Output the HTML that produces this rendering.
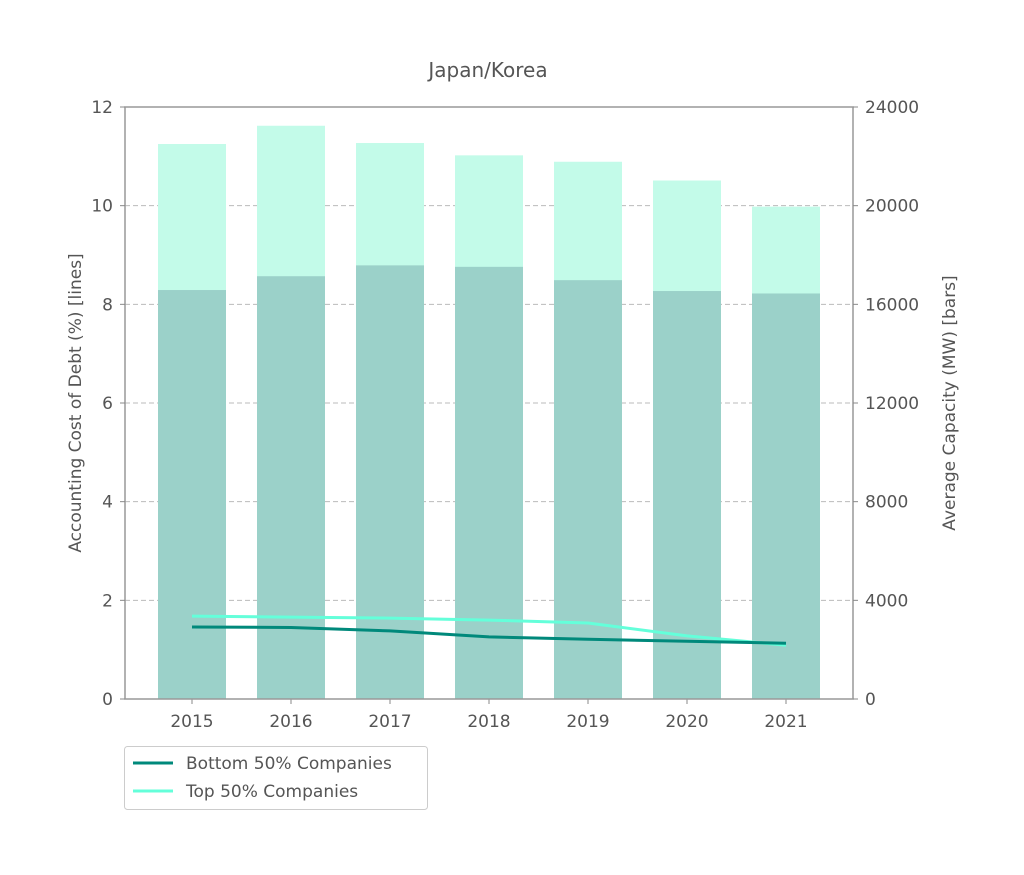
<!DOCTYPE html>
<html><head><meta charset="utf-8"><style>
body{margin:0;background:#fff}
svg text{font-family:"DejaVu Sans","Liberation Sans",sans-serif;fill:#555}
</style></head><body>
<svg id="chart" width="1024" height="870" xmlns="http://www.w3.org/2000/svg">
<text x="488" y="77" font-size="20" text-anchor="middle">Japan/Korea</text>
<g id="grid"></g><g id="bars"></g><g id="lines"></g><g id="axes"></g>
<text transform="translate(81,403) rotate(-90)" font-size="17" text-anchor="middle">Accounting Cost of Debt (%)  [lines]</text>
<text transform="translate(955,403) rotate(-90)" font-size="17" text-anchor="middle">Average Capacity (MW) [bars]</text>
<g>
<rect x="124.5" y="746.5" width="303" height="63" rx="3" fill="#fff" stroke="#ccc"/>
<line x1="133" y1="763" x2="173" y2="763" stroke="#00897b" stroke-width="3"/>
<text x="186" y="769" font-size="17">Bottom 50% Companies</text>
<line x1="133" y1="791" x2="173" y2="791" stroke="#64ffda" stroke-width="3"/>
<text x="186" y="797" font-size="17">Top 50% Companies</text>
</g>
</svg>
<script>
const years=["2015","2016","2017","2018","2019","2020","2021"];
const capTop=[22500,23240,22540,22040,21780,21020,19960];
const capBottom=[16580,17140,17580,17520,16980,16540,16440];
const debtBottom=[1.46,1.45,1.38,1.26,1.21,1.17,1.13];
const debtTop=[1.68,1.66,1.64,1.60,1.54,1.28,1.09];
const leftTicks=[0,2,4,6,8,10,12];
const rightTicks=[0,4000,8000,12000,16000,20000,24000];
const NS="http://www.w3.org/2000/svg";
const X0=125,X1=853,Y0=699,Y1=107;
const xs=i=>192+i*99;
const yl=v=>Y0-(v/12)*(Y0-Y1);
const yr=v=>Y0-(v/24000)*(Y0-Y1);
function mk(p,tag,at){const e=document.createElementNS(NS,tag);for(const k in at)e.setAttribute(k,at[k]);document.getElementById(p).appendChild(e);return e;}
leftTicks.forEach(v=>{if(v>0&&v<12){const g=mk('grid','line',{x1:X0,x2:X1,y1:yl(v),y2:yl(v),stroke:'#bbb','stroke-dasharray':'5,3'});

}});
years.forEach((y,i)=>{
const a=mk('bars','rect',{x:xs(i)-34,width:68,y:yr(capTop[i]),height:Y0-yr(capTop[i]),fill:'#c3fbe9'});


const b=mk('bars','rect',{x:xs(i)-34,width:68,y:yr(capBottom[i]),height:Y0-yr(capBottom[i]),fill:'#9bd1c9'});


const t=mk('axes','text',{x:xs(i),y:727,'font-size':17,'text-anchor':'middle'});t.textContent=y;


mk('axes','line',{x1:xs(i),x2:xs(i),y1:Y0,y2:Y0+5,stroke:'#888'});
});
[[debtTop,'#64ffda','line-top'],[debtBottom,'#00897b','line-bottom']].forEach(([d,c,n])=>{
const p=mk('lines','polyline',{points:d.map((v,i)=>xs(i)+','+yl(v)).join(' '),fill:'none',stroke:c,'stroke-width':3});

});
mk('axes','rect',{x:X0,y:Y1,width:X1-X0,height:Y0-Y1,fill:'none',stroke:'#999','stroke-width':1.5});
leftTicks.forEach(v=>{mk('axes','line',{x1:X0-5,x2:X0,y1:yl(v),y2:yl(v),stroke:'#888'});
const t=mk('axes','text',{x:X0-12,y:yl(v)+6,'font-size':17,'text-anchor':'end'});t.textContent=v;

});
rightTicks.forEach(v=>{mk('axes','line',{x1:X1,x2:X1+5,y1:yr(v),y2:yr(v),stroke:'#888'});
const t=mk('axes','text',{x:X1+12,y:yr(v)+6,'font-size':17}); t.textContent=v;

});
</script>
</body></html>
